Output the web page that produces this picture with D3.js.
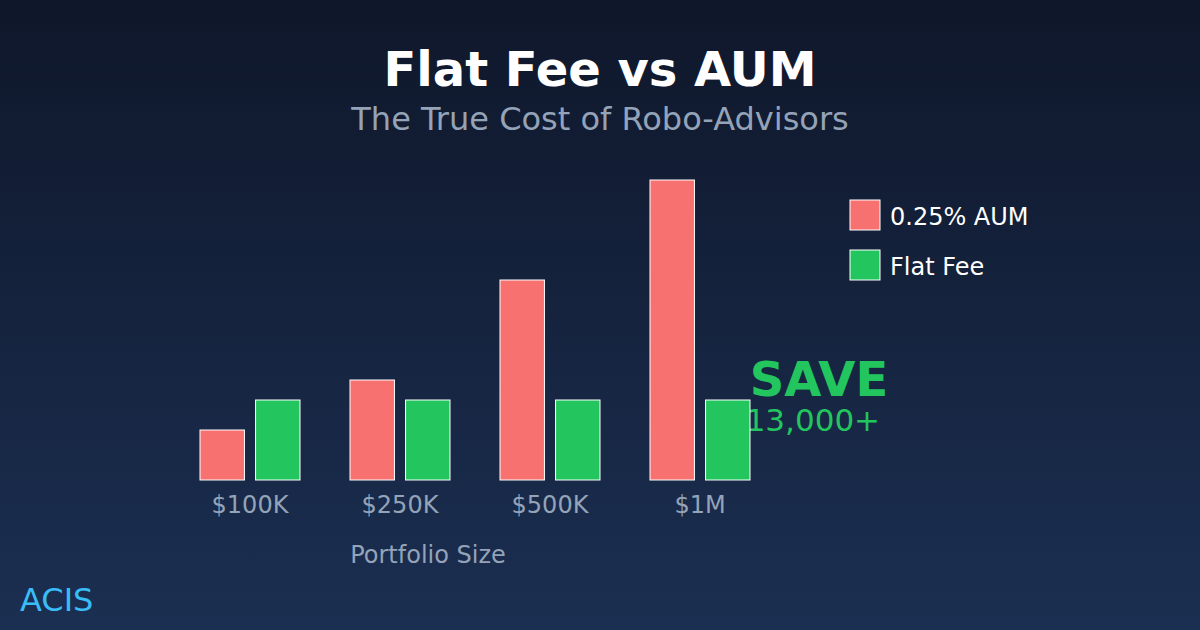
<!DOCTYPE html><html><head><meta charset="utf-8"><script src="https://cdn.jsdelivr.net/npm/d3@7"></script>
<style>body{margin:0}svg{display:block}text{font-family:"DejaVu Sans",sans-serif}</style></head><body>
<script>
const categories=["$100K","$250K","$500K","$1M"];
const aumValues=[500,1000,2000,3000];
const flatValues=[800,800,800,800];
const seriesNames=["0.25% AUM","Flat Fee"];
const colors=["#f87171","#22c55e"];
const W=1200,H=630;
const svg=d3.select("body").append("svg").attr("width",W).attr("height",H);
const g=svg.append("defs").append("linearGradient").attr("id","bg").attr("x1",0).attr("y1",0).attr("x2",0).attr("y2",1);
g.append("stop").attr("offset","0").attr("stop-color","#0f172a");
g.append("stop").attr("offset","1").attr("stop-color","#1b2f52");
svg.append("rect").attr("width",W).attr("height",H).attr("fill","url(#bg)");
svg.append("text").attr("x",600).attr("y",86).attr("text-anchor","middle").attr("fill","#fff").attr("font-size",48).attr("font-weight","bold").text("Flat Fee vs AUM");
svg.append("text").attr("x",600).attr("y",130).attr("text-anchor","middle").attr("fill","#94a3b8").attr("font-size",32).text("The True Cost of Robo-Advisors");
svg.append("text").attr("x",819).attr("y",396).attr("text-anchor","middle").attr("fill","#22c55e").attr("font-size",48).attr("font-weight","bold").text("SAVE");
svg.append("text").attr("x",803).attr("y",431).attr("text-anchor","middle").attr("fill","#22c55e").attr("font-size",31).text("$13,000+");
const x=d3.scaleBand().domain(categories).range([175,775]);
const y=d3.scaleLinear().domain([0,3000]).range([480,180]);
const sub=d3.scaleBand().domain([0,1]).range([25,125]).paddingInner(0.2);
categories.forEach((c,i)=>{
 [aumValues[i],flatValues[i]].forEach((v,s)=>{
  svg.append("rect").attr("x",x(c)+sub(s)).attr("width",sub.bandwidth()).attr("y",y(v)).attr("height",480-y(v))
   .attr("fill",colors[s]).attr("stroke","#fff").attr("stroke-width",1);
 });
 svg.append("text").attr("x",x(c)+x.bandwidth()/2).attr("y",513).attr("text-anchor","middle").attr("fill","#94a3b8").attr("font-size",24).text(c);
});
svg.append("text").attr("x",428).attr("y",563).attr("text-anchor","middle").attr("fill","#94a3b8").attr("font-size",24).text("Portfolio Size");
seriesNames.forEach((n,i)=>{
 svg.append("rect").attr("x",850).attr("y",200+i*50).attr("width",30).attr("height",30).attr("fill",colors[i]).attr("stroke","#fff").attr("stroke-width",1);
 svg.append("text").attr("x",890).attr("y",225+i*50).attr("fill","#fff").attr("font-size",24).text(n);
});
svg.append("text").attr("x",20).attr("y",611).attr("fill","#38bdf8").attr("font-size",32).text("ACIS");
</script></body></html>
